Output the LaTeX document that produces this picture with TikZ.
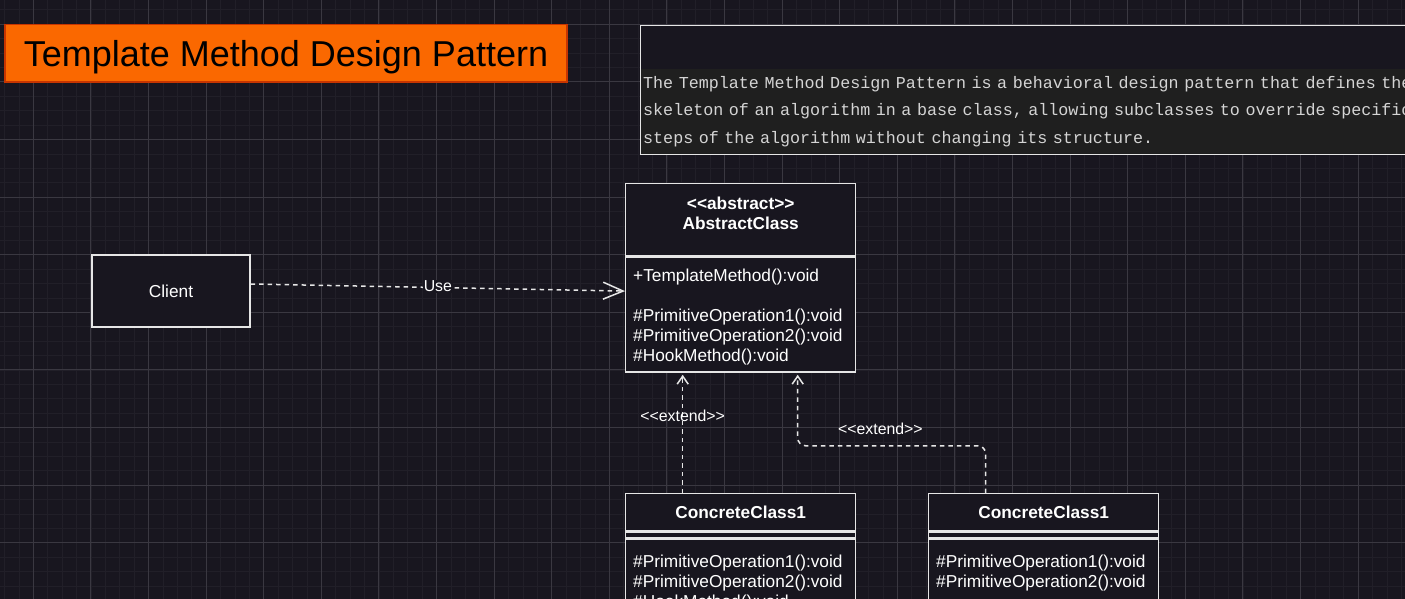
\documentclass[tikz,border=0pt]{standalone}
\usepackage{fontspec}
\setmainfont{Liberation Sans}
\newfontfamily\descfont{Liberation Mono}
\usetikzlibrary{arrows.meta,calc,positioning}

\definecolor{canvas}{HTML}{18161F}
\definecolor{minorline}{HTML}{211F28}
\definecolor{majorline}{HTML}{3A3841}
\definecolor{boxline}{HTML}{E6E6E6}
\definecolor{titlefill}{HTML}{FA6800}
\definecolor{titleline}{HTML}{C73500}
\definecolor{descfill}{HTML}{1F1F1F}
\definecolor{desctextcol}{HTML}{D4D4D4}

\newcommand\stopen{<\kern0pt<}
\newcommand\stclose{>\kern0pt>}

\tikzset{
  minorgrid/.style={minorline, line width=0.8pt},
  majorgrid/.style={majorline, line width=0.9pt},
  umlbox/.style={draw=boxline, line width=1.4pt, fill=canvas, inner sep=0pt,
    text=white, font=\fontsize{17.28}{20}\selectfont},
  classname/.style={text=white, inner sep=0pt, align=center,
    font=\fontsize{17.28}{20}\selectfont\bfseries},
  members/.style={text=white, inner sep=0pt, align=left,
    font=\fontsize{17.28}{20}\selectfont},
  linklabel/.style={text=white, inner sep=1pt, font=\fontsize{15.84}{18}\selectfont},
  uselink/.style={draw=boxline, line width=1.5pt, dash pattern=on 4.5pt off 4pt,
    -{Straight Barb[length=20pt,width=17pt,line width=1.5pt]}},
  extendlink/.style={draw=boxline, line width=1.5pt, dash pattern=on 4.5pt off 4pt,
    -{Straight Barb[length=8pt,width=11pt,line width=1.5pt]}},
}

\begin{document}
\begin{tikzpicture}[x=1pt, y=-1pt]
  \useasboundingbox (0,0) rectangle (1405,599);
  \clip (0,0) rectangle (1405,599);
  \fill[canvas] (0,0) rectangle (1405,599);

  % grid
  \foreach \gx in {0,...,97}
    \draw[minorgrid] (4.5+14.4*\gx,0) -- (4.5+14.4*\gx,599);
  \foreach \gy in {0,...,41}
    \draw[minorgrid] (0,9.9+14.4*\gy) -- (1405,9.9+14.4*\gy);
  \foreach \gx in {0,...,23}
    \draw[majorgrid] (33.3+57.6*\gx,0) -- (33.3+57.6*\gx,599);
  \foreach \gy in {0,...,10}
    \draw[majorgrid] (0,24.3+57.6*\gy) -- (1405,24.3+57.6*\gy);

  % title and description
  \node[draw=titleline, fill=titlefill, line width=1.2pt, minimum width=562, minimum height=57.5,
    text depth=0pt, font=\fontsize{36}{40}\selectfont, text=black] (title) at (286,53.3)
    {Template Method Design Pattern};

  \node[draw=boxline, fill=canvas, line width=1.2pt, anchor=north west,
    minimum width=800, minimum height=129] (descframe) at (639.5,25) {};
  \node[fill=descfill, anchor=north west, minimum height=85, text width=850, inner xsep=2.5pt,
    inner ysep=0pt, align=left, text=desctextcol, font=\descfont\fontsize{16.7}{27.5}\selectfont]
    (desctext) at (640.5,68.5)
    {The Template Method Design Pattern is a behavioral design pattern that defines the\\
     skeleton of an algorithm in a base class, allowing subclasses to override specific\\
     steps of the algorithm without changing its structure.};

  % client
  \node[umlbox, minimum width=158, minimum height=72] (client) at (171,291) {Client};

  % abstract class
  \node[umlbox, minimum width=230, minimum height=72, anchor=north west] (abshead) at (625,183) {};
  \node[classname] (absname) at ($(abshead.center)+(0,-6)$) {\stopen abstract\stclose\\AbstractClass};
  \node[umlbox, minimum width=230, minimum height=115, below=0pt of abshead] (absbody) {};
  \node[members, anchor=north west] (absops) at ($(absbody.north west)+(8,12.4)$)
    {+TemplateMethod():void\\[20pt]
     \#PrimitiveOperation1():void\\
     \#PrimitiveOperation2():void\\
     \#HookMethod():void};

  % concrete classes
  \node[umlbox, minimum width=230, minimum height=37, anchor=north west,
    font=\fontsize{17.28}{20}\selectfont\bfseries] (conchead) at (625,493) {ConcreteClass1};
  \node[umlbox, minimum width=230, minimum height=6, below=0pt of conchead] (concattr) {};
  \node[umlbox, minimum width=230, minimum height=85, below=0pt of concattr] (concbody) {};
  \node[members, anchor=north west] (concops) at ($(concbody.north west)+(8,16.4)$)
    {\#PrimitiveOperation1():void\\
     \#PrimitiveOperation2():void\\
     \#HookMethod():void};

  \node[umlbox, minimum width=230, minimum height=37, anchor=north west,
    font=\fontsize{17.28}{20}\selectfont\bfseries] (conctwohead) at (928,493) {ConcreteClass1};
  \node[umlbox, minimum width=230, minimum height=6, below=0pt of conctwohead] (conctwoattr) {};
  \node[umlbox, minimum width=230, minimum height=70, below=0pt of conctwoattr] (conctwobody) {};
  \node[members, anchor=north west] (conctwoops) at ($(conctwobody.north west)+(8,16.4)$)
    {\#PrimitiveOperation1():void\\
     \#PrimitiveOperation2():void};

  % links
  \draw[uselink] ($(client.east)+(0,-7)$) -- node[linklabel, fill=canvas, yshift=1pt] (uselabel) {Use}
    ($(absbody.west)+(0,-23.5)$);
  \draw[extendlink] ($(conchead.north)+(-58,0)$) --
    node[linklabel, pos=0.653] (extlabel) {\stopen extend\stclose}
    ($(absbody.south)+(-58,2)$);
  \draw[extendlink, rounded corners=8pt] ($(conctwohead.north)+(-58,0)$) |-
    node[linklabel, pos=0.78, above=9pt] (exttwolabel) {\stopen extend\stclose}
    ($(absbody.south)+(57,73)$) -- ($(absbody.south)+(57,2)$);
\end{tikzpicture}
\end{document}
